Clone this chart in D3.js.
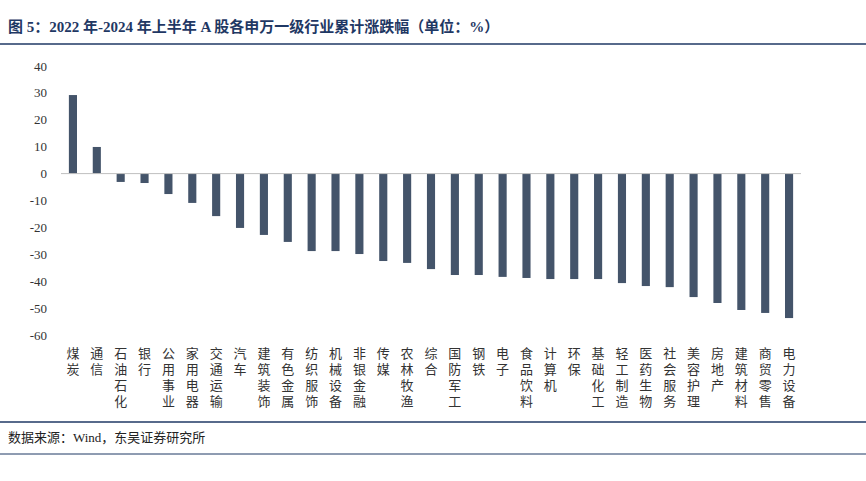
<!DOCTYPE html>
<html><head><meta charset="utf-8">
<script src="https://cdn.jsdelivr.net/npm/d3@7"></script>
<style>body{margin:0;background:#fff;font-family:"Liberation Serif","Noto Sans CJK SC",serif;}</style>
</head><body><div id="chart"></div>
<script>
// industries and cumulative change (%)
const industries = ["煤炭","通信","石油石化","银行","公用事业","家用电器","交通运输","汽车","建筑装饰","有色金属",
  "纺织服饰","机械设备","非银金融","传媒","农林牧渔","综合","国防军工","钢铁","电子","食品饮料",
  "计算机","环保","基础化工","轻工制造","医药生物","社会服务","美容护理","房地产","建筑材料","商贸零售","电力设备"];
const changes = [29.2,9.9,-3.1,-3.5,-7.6,-10.9,-15.8,-20.2,-22.8,-25.4,
  -28.8,-28.8,-29.9,-32.5,-33.2,-35.5,-37.7,-37.7,-38.4,-38.8,
  -39.2,-39.2,-39.2,-40.7,-41.8,-42.2,-45.9,-48.1,-50.7,-51.8,-53.7];
const yTicks = [40,30,20,10,0,-10,-20,-30,-40,-50,-60];

const W = 866, H = 481;
const svg = d3.select("#chart").append("svg").attr("width", W).attr("height", H);

svg.append("text").attr("x", 8).attr("y", 32)
  .attr("font-size", 15).attr("font-weight", "bold").attr("fill", "#1f3864")
  .attr("font-family", "'Liberation Serif','Noto Sans CJK SC',serif")
  .text("图 5：2022 年-2024 年上半年 A 股各申万一级行业累计涨跌幅（单位：%）");
svg.append("line").attr("x1", 0).attr("x2", W).attr("y1", 44).attr("y2", 44)
  .attr("stroke", "#1f3864").attr("stroke-width", 1.5);

const x = d3.scaleBand().domain(industries).range([61, 801]).paddingInner(0.66).paddingOuter(0.33);
const y = d3.scaleLinear().domain([-60, 40]).range([335, 66]);

const g = svg.append("g");
g.selectAll("text.yt").data(yTicks).join("text")
  .attr("x", 47).attr("y", d => y(d) + 4.5).attr("text-anchor", "end")
  .attr("font-size", 13).attr("fill", "#333").text(d => d);

g.selectAll("rect").data(changes).join("rect")
  .attr("x", (d, i) => x(industries[i]))
  .attr("width", x.bandwidth())
  .attr("y", d => y(Math.max(0, d)))
  .attr("height", d => Math.abs(y(d) - y(0)))
  .attr("fill", "#44546a");

g.append("line").attr("x1", 61).attr("x2", 801).attr("y1", y(0)).attr("y2", y(0))
  .attr("stroke", "#bfbfbf");

// vertical category labels, one character per line
industries.forEach((name, i) => {
  const cx = x(name) + x.bandwidth() / 2;
  Array.from(name).forEach((c, j) => {
    g.append("text").attr("text-anchor", "middle").attr("font-size", 13).attr("fill", "#333")
      .attr("font-family", "'Noto Sans CJK SC',sans-serif")
      .attr("x", cx).attr("y", 358 + j * 16).text(c);
  });
});

svg.append("line").attr("x1", 0).attr("x2", W).attr("y1", 422).attr("y2", 422)
  .attr("stroke", "#1f3864").attr("stroke-width", 1.5);
svg.append("text").attr("x", 8).attr("y", 442).attr("font-size", 13).attr("fill", "#222")
  .attr("font-family", "'Liberation Serif','Noto Sans CJK SC',serif")
  .text("数据来源：Wind，东吴证券研究所");
svg.append("line").attr("x1", 0).attr("x2", W).attr("y1", 454).attr("y2", 454)
  .attr("stroke", "#1f3864").attr("stroke-width", 1);
</script></body></html>
